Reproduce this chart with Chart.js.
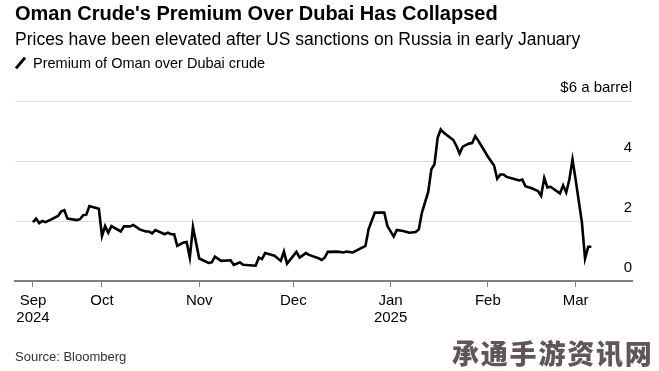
<!DOCTYPE html>
<html>
<head>
<meta charset="utf-8">
<script src="https://cdn.jsdelivr.net/npm/chart.js@4.4.1/dist/chart.umd.min.js"></script>
<style>
  html, body {
    margin: 0;
    padding: 0;
    background: #fff;
  }
  body {
    width: 659px;
    height: 371px;
    position: relative;
    overflow: hidden;
    font-family: 'Liberation Sans', Arial, sans-serif;
    color: #000;
  }
  .txt {
    position: absolute;
    left: 15px;
    white-space: nowrap;
  }
  #title {
    top: 2px;
    font-size: 20px;
    font-weight: bold;
  }
  #subtitle {
    top: 29px;
    font-size: 17.5px;
  }
  #legend {
    top: 55px;
    font-size: 14.5px;
  }
  #legend .swatch {
    display: inline-block;
    width: 3px;
    height: 14px;
    background: #000;
    transform: rotate(40deg);
    margin: 0 11px 0 4px;
    vertical-align: -2px;
  }
  #source {
    top: 349px;
    font-size: 13px;
    color: #333;
  }
  #mark {
    position: absolute;
    left: 452px;
    top: 333px;
    font-family: 'Noto Sans CJK SC', sans-serif;
    font-weight: 900;
    font-size: 27px;
    letter-spacing: 1.8px;
    color: rgba(80, 68, 68, 0.9);
    white-space: nowrap;
  }
  #wrap {
    position: absolute;
    left: 0;
    top: 0;
    width: 659px;
    height: 371px;
  }
</style>
</head>
<body>
<div id="wrap"><canvas id="premiumChart"></canvas></div>
<div class="txt" id="title">Oman Crude's Premium Over Dubai Has Collapsed</div>
<div class="txt" id="subtitle">Prices have been elevated after US sanctions on Russia in early January</div>
<div class="txt" id="legend"><span class="swatch"></span>Premium of Oman over Dubai crude</div>
<div class="txt" id="source">Source: Bloomberg</div>
<div id="mark">承通手游资讯网</div>

<script>
// days since 1 Sep 2024
const days = [
  8, 9, 10, 11, 12, 14, 16, 17, 18, 19, 22, 23, 24, 25, 26, 27, 29,
  30, 31, 32, 33, 36, 37, 39, 40, 42, 44, 45, 46, 47, 50, 51, 52, 53,
  54, 56, 57, 58, 59, 61, 64, 65, 66, 68, 71, 72, 74, 75, 79, 80, 81,
  82, 85, 87, 88, 89, 92, 93, 95, 96, 99, 100, 101, 102, 105, 107, 108,
  110, 114, 115, 117, 120, 121, 123, 124, 126, 128, 130, 131, 132, 134,
  135, 136, 137, 138, 139, 142, 143, 144, 145, 147, 148, 149, 150, 153,
  154, 155, 156, 157, 158, 159, 162, 163, 164, 165, 167, 169, 170, 171,
  172, 173, 176, 177, 178, 179, 180, 181, 183, 184, 185, 186,
];

// premium, $ a barrel
const premium = [
  1.96, 2.08, 1.93, 2.0, 1.96, 2.06, 2.17, 2.32, 2.36, 2.08, 2.03, 2.06, 2.19, 2.21, 2.5, 2.47, 2.41,
  1.5, 1.83, 1.61, 1.83, 1.65, 1.82, 1.82, 1.87, 1.72, 1.65, 1.65, 1.59, 1.7, 1.56, 1.61, 1.56, 1.56,
  1.17, 1.28, 1.3, 0.78, 1.8, 0.75, 0.6, 0.62, 0.81, 0.67, 0.69, 0.54, 0.62, 0.54, 0.51, 0.78, 0.73,
  0.93, 0.84, 0.67, 0.98, 0.58, 0.97, 0.78, 0.93, 0.87, 0.76, 0.7, 0.78, 0.97, 0.98, 0.95, 0.98,
  0.95, 1.17, 1.73, 2.28, 2.28, 1.83, 1.48, 1.7, 1.67, 1.61, 1.63, 1.72, 2.28, 2.97,
  3.72, 3.89, 4.77, 5.05, 4.94, 4.7, 4.5, 4.25, 4.48, 4.58, 4.6, 4.83, 4.67, 4.15,
  4.0, 3.85, 3.41, 3.55, 3.55, 3.47, 3.38, 3.35, 3.38, 3.16, 3.09, 3.0, 2.84, 3.43,
  3.12, 3.14, 2.92, 3.19, 2.95, 3.38, 4.05, 3.38, 1.95, 0.75, 1.14, 1.14,
];

// month ticks
const tickDays = [8, 30, 61, 91, 122, 153, 181];
const tickLabels = [['Sep', '2024'], 'Oct', 'Nov', 'Dec', ['Jan', '2025'], 'Feb', 'Mar'];

const yTicks = [0, 2, 4, 6];
const yLabels = ['0', '2', '4', '$6 a barrel'];

Chart.defaults.font.family = "'Liberation Sans', Arial, sans-serif";
Chart.defaults.color = '#000';

const ctx = document.getElementById('premiumChart').getContext('2d');

new Chart(ctx, {
  type: 'line',
  data: {
    datasets: [
      {
        label: 'Premium of Oman over Dubai crude',
        data: days.map((d, i) => ({ x: d, y: premium[i] })),
        borderColor: '#000',
        borderWidth: 2.6,
        pointRadius: 0,
        tension: 0,
        fill: false,
      },
    ],
  },
  options: {
    responsive: true,
    maintainAspectRatio: false,
    animation: false,
    layout: {
      padding: { left: 15, right: 27, top: 101, bottom: 39 },
    },
    plugins: {
      legend: { display: false },
      tooltip: { enabled: false },
    },
    scales: {
      x: {
        type: 'linear',
        min: 2.27,
        max: 198.97,
        afterBuildTicks: (axis) => {
          axis.ticks = tickDays.map((v) => ({ value: v }));
        },
        ticks: {
          autoSkip: false,
          maxRotation: 0,
          padding: 6,
          font: { size: 15, lineHeight: 1.1 },
          callback: function (value, index) {
            return tickLabels[index];
          },
        },
        grid: {
          drawOnChartArea: false,
          drawTicks: true,
          tickLength: 6,
          tickColor: '#808080',
          tickWidth: 1,
        },
        border: {
          display: true,
          color: '#808080',
          width: 2,
        },
      },
      y: {
        position: 'right',
        min: 0,
        max: 6,
        afterBuildTicks: (axis) => {
          axis.ticks = yTicks.map((v) => ({ value: v }));
        },
        ticks: {
          mirror: true,
          padding: 0,
          labelOffset: -13.5,
          font: { size: 15 },
          callback: function (value, index) {
            return yLabels[index];
          },
        },
        grid: {
          color: '#dddddd',
          lineWidth: 1,
          drawTicks: false,
        },
        border: { display: false },
      },
    },
  },
});
</script>
</body>
</html>
